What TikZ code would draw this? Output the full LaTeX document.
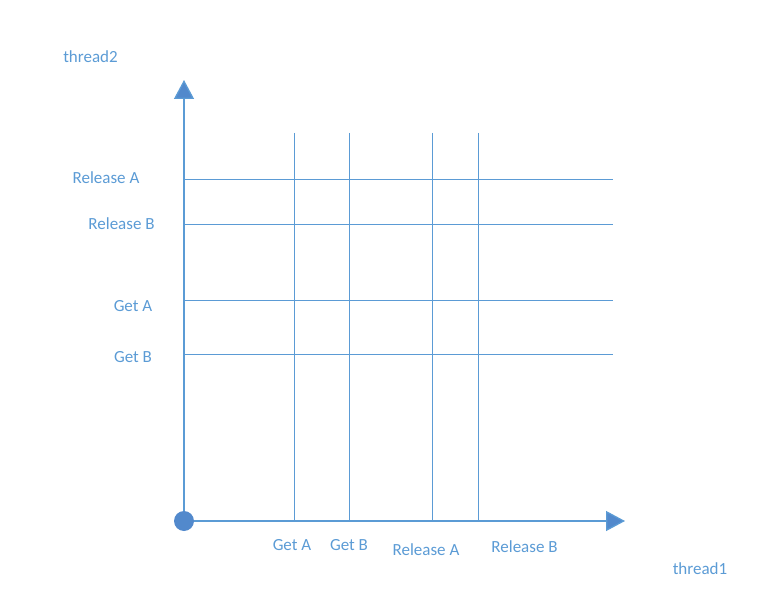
\documentclass[tikz,border=0pt]{standalone}
\usepackage{fontspec}
\setmainfont{Carlito}
\usetikzlibrary{arrows.meta}
\definecolor{lineblue}{HTML}{5B9BD5}
\definecolor{tipblue}{HTML}{5289CC}

\begin{document}
\begin{tikzpicture}[x=1pt,y=-1pt]
    \tikzstyle{gridline}=[draw=lineblue, line width=1pt]
    \tikzstyle{axis}=[draw=lineblue, line width=1.3pt, -{Triangle[length=19pt,width=20pt,fill=tipblue]}]
    \tikzstyle{lbl}=[text=lineblue, font=\fontsize{17}{20}\selectfont, inner sep=0pt]
    \tikzstyle{dot}=[circle, fill=tipblue, minimum size=20pt, inner sep=0pt]
    \useasboundingbox (0,0) rectangle (758,615);

    % axes
    \coordinate (o) at (184,521);
    \coordinate (ytip) at (184,80);
    \coordinate (xtip) at (625,521);
    \coordinate (xend) at (613,0);

    % thread1 events
    \foreach \x/\n in {294/ga,349/gb,432/ra,478/rb}{
        \coordinate (t\n) at (\x,133);
        \draw[gridline] (t\n) -- (t\n |- o);
    }
    % thread2 events
    \foreach \y/\n in {180/ra,224/rb,300/ga,354/gb}{
        \coordinate (l\n) at (184,\y);
        \draw[gridline] (l\n) -- (l\n -| xend);
    }

    \draw[axis] (o) -- (ytip);
    \draw[axis] (o) -- (xtip);
    \node[dot] (origin) at (o) {};

    % labels
    \node[lbl] (thread2) at (90.5,57) {thread2};
    \node[lbl] (thread1) at (700,569) {thread1};

    \node[lbl] (relA2) at (106,178) {Release A};
    \node[lbl] (relB2) at (121.5,224) {Release B};
    \node[lbl] (getA2) at (133,306) {Get A};
    \node[lbl] (getB2) at (133,357) {Get B};

    \node[lbl] (getA1) at (292,545) {Get A};
    \node[lbl] (getB1) at (349,545) {Get B};
    \node[lbl] (relA1) at (426,550) {Release A};
    \node[lbl] (relB1) at (524.5,547) {Release B};
\end{tikzpicture}
\end{document}
